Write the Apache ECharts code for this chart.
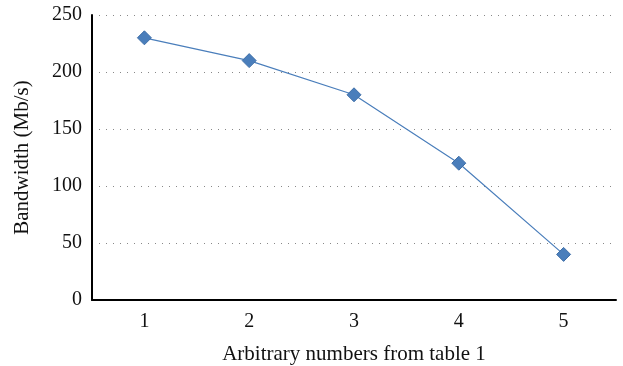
<!DOCTYPE html>
<html>
<head>
<meta charset="utf-8">
<script src="https://cdn.jsdelivr.net/npm/echarts@6/dist/echarts.min.js"></script>
<style>
  html, body { margin: 0; padding: 0; background: #fff; }
  #chart { width: 623px; height: 366px; }
</style>
</head>
<body>
<div id="chart"></div>
<script>
// Bandwidth measured for each numbered configuration
const categories = ['1', '2', '3', '4', '5'];
const bandwidth = [230, 210, 180, 120, 40];
const yTicks = { min: 0, max: 250, interval: 50 };

const font = '"Liberation Serif", "DejaVu Serif", serif';
const chart = echarts.init(document.getElementById('chart'));
chart.setOption({
  animation: false,
  grid: { left: 92, right: 7, top: 15, bottom: 66, containLabel: false, outerBoundsMode: 'none' },
  xAxis: {
    type: 'category',
    data: categories,
    boundaryGap: true,
    name: 'Arbitrary numbers from table 1',
    nameLocation: 'middle',
    nameGap: 44,
    nameTextStyle: { fontFamily: font, fontSize: 21, color: '#111' },
    axisLine: { lineStyle: { color: '#000', width: 2 } },
    axisTick: { show: false },
    axisLabel: { fontFamily: font, fontSize: 20, color: '#111', margin: 12 },
    splitLine: { show: false }
  },
  yAxis: {
    type: 'value',
    min: yTicks.min,
    max: yTicks.max,
    interval: yTicks.interval,
    name: 'Bandwidth (Mb/s)',
    nameLocation: 'middle',
    nameGap: 59,
    nameTextStyle: { fontFamily: font, fontSize: 21, color: '#111' },
    axisLine: { show: true, lineStyle: { color: '#000', width: 2 } },
    axisTick: { show: false },
    axisLabel: { fontFamily: font, fontSize: 20, color: '#111', margin: 10 },
    splitLine: { show: true, lineStyle: { color: '#888', type: [1, 6], width: 1 } }
  },
  series: [{
    type: 'line',
    data: bandwidth,
    symbol: 'diamond',
    symbolSize: 14,
    lineStyle: { color: '#4a7ebb', width: 1.2 },
    itemStyle: { color: '#4a7ebb', borderColor: '#3f6fa8', borderWidth: 1 }
  }]
});
</script>
</body>
</html>
